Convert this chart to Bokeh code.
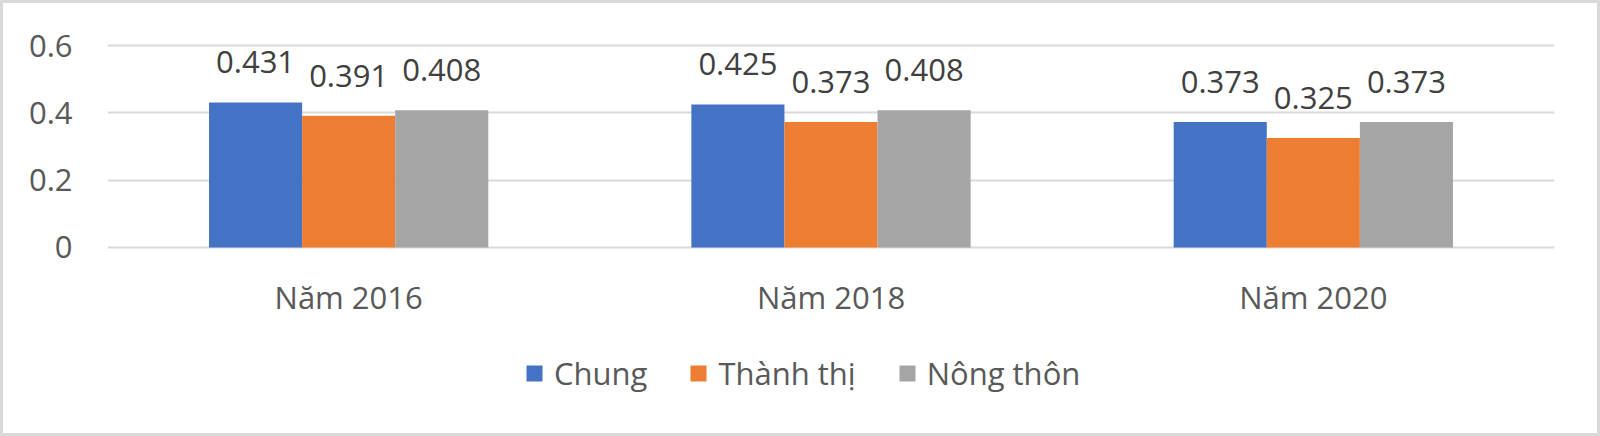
from bokeh.plotting import figure
from bokeh.layouts import column
from bokeh.models import (FactorRange, Range1d, ColumnDataSource, LabelSet, Legend,
                          LegendItem, FixedTicker)
from bokeh.core.properties import value
from bokeh.transform import dodge
from bokeh.embed import file_html
from bokeh.resources import INLINE

years = ["Năm 2016", "Năm 2018", "Năm 2020"]
series_names = ["Chung", "Thành thị", "Nông thôn"]
chung = [0.431, 0.425, 0.373]
thanh_thi = [0.391, 0.373, 0.325]
nong_thon = [0.408, 0.408, 0.373]
y_ticks = [0, 0.2, 0.4, 0.6]
y_tick_labels = ["0", "0.2", "0.4", "0.6"]

colors = ["#4472C4", "#ED7D31", "#A5A5A5"]
FONT = "Open Sans"
FS = "31px"

src = ColumnDataSource(dict(
    x=years, chung=chung, thanh_thi=thanh_thi, nong_thon=nong_thon,
    chung_t=[f"{v:.3f}" for v in chung],
    thanh_thi_t=[f"{v:.3f}" for v in thanh_thi],
    nong_thon_t=[f"{v:.3f}" for v in nong_thon],
))

p = figure(width=1594, height=317, x_range=FactorRange(*years, range_padding=0),
           y_range=Range1d(-0.006, 0.606), output_backend="svg", toolbar_location=None,
           min_border_left=104, min_border_right=43, min_border_top=40, min_border_bottom=70)
p.outline_line_color = None
p.background_fill_color = "white"
p.border_fill_color = "white"

bw = 0.193
offsets = [-bw, 0.0, bw]
cols = ["chung", "thanh_thi", "nong_thon"]
for col, off, c in zip(cols, offsets, colors):
    p.vbar(x=dodge("x", off, range=p.x_range), top=col, width=bw, source=src,
           fill_color=c, line_color=None)
    lbl = LabelSet(x=dodge("x", off, range=p.x_range), y=col, text=col + "_t", source=src,
                   text_align="center", text_baseline="alphabetic", y_offset=29,
                   text_font=value(FONT), text_font_size=value(FS), text_color="#404040")
    p.add_layout(lbl)

p.xgrid.grid_line_color = None
p.ygrid.grid_line_color = "#D9D9D9"
p.ygrid.grid_line_width = 2
p.yaxis.ticker = FixedTicker(ticks=y_ticks)
p.yaxis.major_label_overrides = {t: s for t, s in zip(y_ticks, y_tick_labels)}
for ax in (p.xaxis, p.yaxis):
    ax.axis_line_color = None
    ax.major_tick_line_color = None
    ax.minor_tick_line_color = None
    ax.major_tick_out = 0
    ax.major_tick_in = 0
    ax.major_label_text_font = FONT
    ax.major_label_text_font_size = FS
    ax.major_label_text_color = "#595959"
p.yaxis.major_label_standoff = 35
p.xaxis.major_label_standoff = 26

# legend strip below the chart (legend-only renderers have zero height)
lg = figure(width=1594, height=113, x_range=Range1d(0, 1), y_range=Range1d(0, 1),
            output_backend="svg", toolbar_location=None,
            min_border_left=0, min_border_right=0, min_border_top=0, min_border_bottom=0)
lg.outline_line_color = None
lg.axis.visible = False
lg.grid.visible = False
lg.border_fill_color = "white"
dummy = []
for c in colors:
    dummy.append(lg.vbar(x=[0.5], top=[0.5], bottom=[0.5], width=0.0,
                         fill_color=c, line_color=None))
legend = Legend(items=[LegendItem(label=n, renderers=[r]) for n, r in zip(series_names, dummy)],
                orientation="horizontal", location=(417, 39),
                glyph_width=20, glyph_height=20, label_standoff=10, spacing=41,
                padding=0, margin=0, border_line_color=None, background_fill_alpha=0,
                label_text_font=FONT, label_text_font_size=FS, label_text_color="#595959")
lg.add_layout(legend, "center")

layout = column(p, lg, spacing=0, margin=(3, 3, 3, 3))
layout.styles = {"outline": "3px solid #D9D9D9"}

open("out.html", "w").write(file_html(layout, INLINE))
